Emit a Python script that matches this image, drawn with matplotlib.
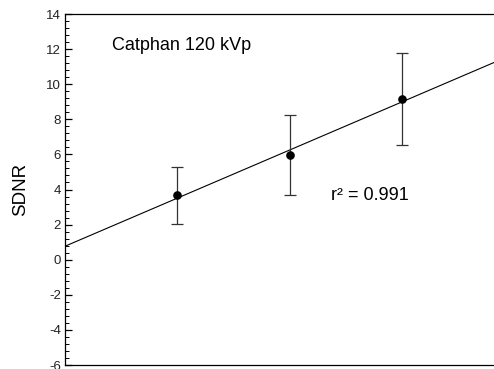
import numpy as np
import matplotlib
matplotlib.use("Agg")
import matplotlib.pyplot as plt
from matplotlib.ticker import MultipleLocator

plt.rcParams['font.family'] = ['Liberation Sans', 'DejaVu Sans']
plt.rcParams['axes.unicode_minus'] = False

# SDNR measurements (Catphan, 120 kVp)
dose_level = [1, 2, 3]
sdnr = [3.66, 5.94, 9.14]
sdnr_err = [1.63, 2.28, 2.63]
y_ticks = [-6, -4, -2, 0, 2, 4, 6, 8, 10, 12, 14]

W, H = 494, 369
fig = plt.figure(figsize=(W / 100, H / 100), dpi=100)
ax = fig.add_axes([65 / W, 4 / H, 1 - 65 / W + 0.002, (365 - 14) / H])

# linear fit through the points
slope, intercept = np.polyfit(dose_level, sdnr, 1)
xlim = (0, 3.83)
xs = np.array(xlim)
ax.plot(xs, slope * xs + intercept, color='black', lw=0.8, zorder=2)

ax.errorbar(dose_level, sdnr, yerr=sdnr_err, fmt='o', color='black',
            ecolor='#333333', elinewidth=0.9, capsize=4, capthick=0.9,
            markersize=5.2, zorder=3)

ax.set_xlim(*xlim)
ax.set_ylim(-6, 14)
ax.set_yticks(y_ticks)
ax.yaxis.set_minor_locator(MultipleLocator(0.4))
ax.set_xticks([])
ax.tick_params(axis='y', which='major', direction='in', length=5, width=0.9,
               labelsize=9.5, labelcolor='#222222', pad=3)
ax.tick_params(axis='y', which='minor', direction='in', length=3, width=0.7)
ax.spines['right'].set_visible(False)
for s in ('left', 'bottom', 'top'):
    ax.spines[s].set_linewidth(0.9)

ax.set_ylabel('SDNR', fontsize=13.5, labelpad=12)

fig.text(182 / W, 1 - 45 / H, 'Catphan 120 kVp', fontsize=13,
         ha='center', va='center')
fig.text(370 / W, 1 - 196 / H, 'r² = 0.991', fontsize=13,
         ha='center', va='center')

fig.savefig('out.png', dpi=100)
